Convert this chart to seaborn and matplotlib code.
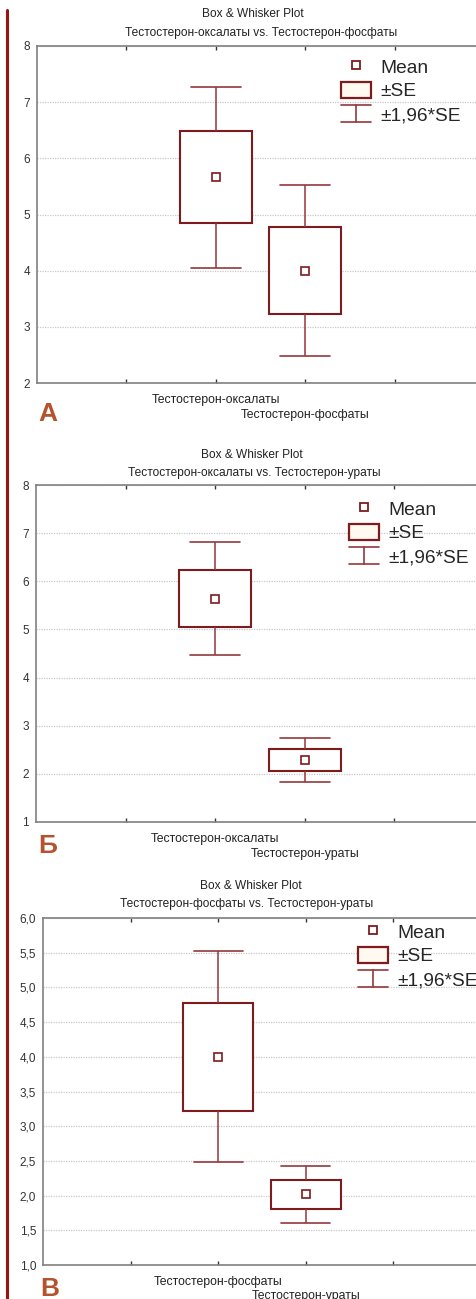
import numpy as np
import pandas as pd
import matplotlib
matplotlib.use("Agg")
import matplotlib.pyplot as plt
from matplotlib.lines import Line2D
from matplotlib.patches import Rectangle
from matplotlib.legend_handler import HandlerBase
import seaborn as sns

# ---- data: group means and standard errors for each comparison ----
panel_letters = ["А", "Б", "В"]
panel_subtitles = [
    "Тестостерон-оксалаты vs. Тестостерон-фосфаты",
    "Тестостерон-оксалаты vs. Тестостерон-ураты",
    "Тестостерон-фосфаты vs. Тестостерон-ураты",
]
groups_a = ["Тестостерон-оксалаты", "Тестостерон-фосфаты"]
means_a = [5.66, 4.00]
se_a = [0.82, 0.775]

groups_b = ["Тестостерон-оксалаты", "Тестостерон-ураты"]
means_b = [5.64, 2.29]
se_b = [0.595, 0.235]

groups_c = ["Тестостерон-фосфаты", "Тестостерон-ураты"]
means_c = [4.00, 2.02]
se_c = [0.775, 0.21]

yticks_a = [2, 3, 4, 5, 6, 7, 8]
yticks_b = [1, 2, 3, 4, 5, 6, 7, 8]
yticks_c = [1.0, 1.5, 2.0, 2.5, 3.0, 3.5, 4.0, 4.5, 5.0, 5.5, 6.0]
ytick_labels_a = ["2", "3", "4", "5", "6", "7", "8"]
ytick_labels_b = ["1", "2", "3", "4", "5", "6", "7", "8"]
ytick_labels_c = ["1,0", "1,5", "2,0", "2,5", "3,0", "3,5", "4,0", "4,5", "5,0", "5,5", "6,0"]

z_factor = 1.96  # whiskers: mean ± 1.96*SE, box: mean ± SE

# ---- style ----
DARK = "#7d1b1e"
WHISK = "#93383c"
SPINE = "#808080"
GRID = "#c9c9c9"
LETTER = "#b5532f"
BAR = "#9a1414"

sns.set_style("white")
plt.rcParams["font.family"] = ["Liberation Sans", "DejaVu Sans"]

W, H = 477, 1299
fig = plt.figure(figsize=(W / 100, H / 100), dpi=100)


def fx(px):
    return px / W


def fy(py):
    return 1 - py / H


def summary_frame(groups, means, ses):
    """Five points per group whose quartiles/extremes equal mean±SE / mean±1.96SE."""
    rows = []
    for i, (g, m, s) in enumerate(zip(groups, means, ses)):
        for k in (-z_factor, -1.0, 0.0, 1.0, z_factor):
            rows.append({"pos": i + 2, "group": g, "value": m + k * s})
    return pd.DataFrame(rows)


class WhiskerHandler(HandlerBase):
    def create_artists(self, legend, orig_handle, xdescent, ydescent,
                       width, height, fontsize, trans):
        x0, x1 = -xdescent, -xdescent + width
        y0, y1 = -ydescent, -ydescent + height
        xm = 0.5 * (x0 + x1)
        segs = [([x0, x1], [y1, y1]), ([xm, xm], [y0, y1]), ([x0, x1], [y0, y0])]
        return [Line2D(xs, ys, color=WHISK, lw=1.2, transform=trans) for xs, ys in segs]


panels = [
    dict(groups=groups_a, means=means_a, ses=se_a, yticks=yticks_a, ylabels=ytick_labels_a,
         box=(37, 46, 484, 383), t1=(253, 14), t2=(261, 33), pad2=19,
         letter=(38, 421), leg=(341, 58)),
    dict(groups=groups_b, means=means_b, ses=se_b, yticks=yticks_b, ylabels=ytick_labels_b,
         box=(36, 485, 484, 822), t1=(252, 455), t2=(254, 473), pad2=19,
         letter=(38, 853), leg=(349, 500)),
    dict(groups=groups_c, means=means_c, ses=se_c, yticks=yticks_c, ylabels=ytick_labels_c,
         box=(43, 918, 481, 1265), t1=(251, 886), t2=(247, 904), pad2=18,
         letter=(40, 1296), leg=(358, 923)),
]

for p, letter, subtitle in zip(panels, panel_letters, panel_subtitles):
    l, t, r, b = p["box"]
    ax = fig.add_axes([fx(l), fy(b), fx(r) - fx(l), fy(t) - fy(b)])
    df = summary_frame(p["groups"], p["means"], p["ses"])

    sns.boxplot(
        data=df, x="pos", y="value", native_scale=True, ax=ax,
        whis=(0, 100), width=0.8, linewidth=1.2, linecolor=DARK,
        boxprops={"facecolor": "white", "edgecolor": DARK, "linewidth": 1.5},
        whiskerprops={"color": WHISK, "linewidth": 1.1},
        capprops={"color": WHISK, "linewidth": 1.2},
        medianprops={"visible": False},
        showmeans=True,
        meanprops={"marker": "s", "markersize": 5.5, "markerfacecolor": "white",
                   "markeredgecolor": DARK, "markeredgewidth": 1.2},
        capwidths=0.56, showfliers=False,
    )

    ax.set_xlim(0, 5)
    ax.set_ylim(p["yticks"][0], p["yticks"][-1])
    ax.set_yticks(p["yticks"])
    ax.set_yticklabels(p["ylabels"])
    # first group labelled on the major ticks, second one staggered below via a minor tick
    ax.xaxis.remove_overlapping_locs = False
    ax.set_xticks([1, 2, 3, 4])
    ax.set_xticklabels(["", p["groups"][0], "", ""])
    ax.set_xticks([3], minor=True)
    ax.set_xticklabels([p["groups"][1]], minor=True)
    ax.set_xlabel("")
    ax.set_ylabel("")

    ax.yaxis.grid(True, linestyle=(0, (1, 1)), color=GRID, linewidth=0.9)
    ax.xaxis.grid(False)
    for sp in ax.spines.values():
        sp.set_color(SPINE)
        sp.set_linewidth(1.2)
    ax.tick_params(axis="x", which="major", direction="in", length=3, width=1,
                   color="#333333", top=True, bottom=True, labelsize=8.8,
                   labelcolor="#222222", pad=8)
    ax.tick_params(axis="x", which="minor", length=0, top=False, bottom=True,
                   labelsize=8.8, labelcolor="#222222", pad=p["pad2"])
    ax.tick_params(axis="y", length=0, labelsize=8.5, labelcolor="#333333", pad=5)

    # titles
    fig.text(fx(p["t1"][0]), fy(p["t1"][1]), "Box & Whisker Plot", ha="center", va="center",
             fontsize=8.6, color="#222222")
    fig.text(fx(p["t2"][0]), fy(p["t2"][1]), subtitle, ha="center", va="center",
             fontsize=8.6, color="#222222")

    # panel letter
    fig.text(fx(p["letter"][0]), fy(p["letter"][1]), letter, ha="left", va="baseline",
             fontsize=19, fontweight="bold", color=LETTER)

    # legend
    mean_h = Line2D([], [], marker="s", linestyle="", markersize=6, markerfacecolor="white",
                    markeredgecolor=DARK, markeredgewidth=1.3)
    se_h = Rectangle((0, 0), 1, 1, facecolor="#fff9f0", edgecolor=DARK, linewidth=1.6)
    wh_h = Line2D([], [], color=WHISK)
    ax.legend([mean_h, se_h, wh_h], ["Mean", "±SE", "±1,96*SE"],
              handler_map={wh_h: WhiskerHandler()},
              loc="upper left", bbox_to_anchor=(fx(p["leg"][0]), fy(p["leg"][1])),
              bbox_transform=fig.transFigure, frameon=False, borderpad=0,
              borderaxespad=0, fontsize=13.8, handlelength=1.55, handleheight=0.93,
              handletextpad=0.5, labelspacing=0.26)

# red rule along the left edge
fig.add_artist(Line2D([fx(7), fx(7)], [fy(10), 0], color=BAR, linewidth=2.2,
                      transform=fig.transFigure))

fig.savefig("out.png", dpi=100)
